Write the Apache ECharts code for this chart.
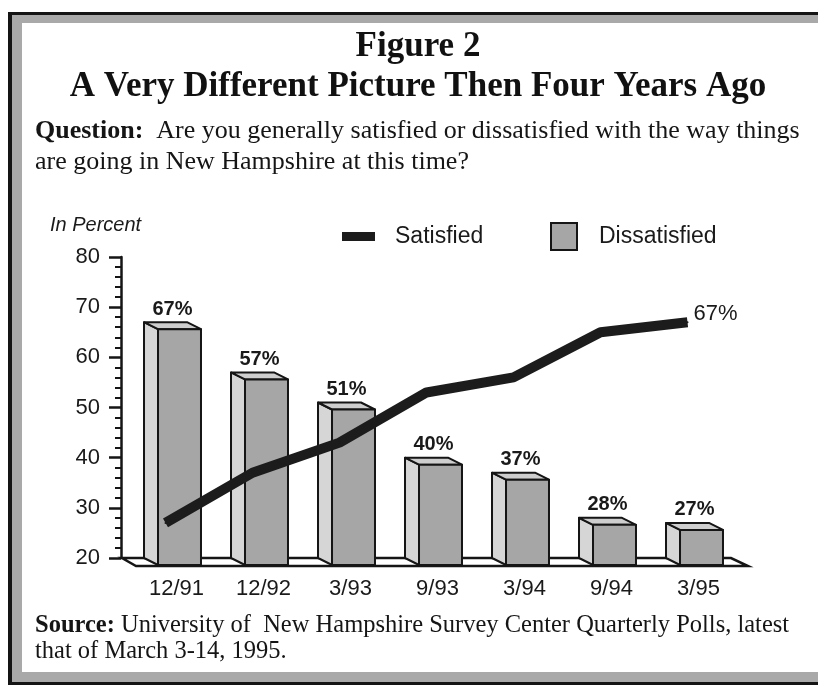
<!DOCTYPE html>
<html><head><meta charset="utf-8">
<script src="https://cdn.jsdelivr.net/npm/echarts@6/dist/echarts.min.js"></script>
<style>html,body{margin:0;padding:0;background:#fff}#c{width:818px;height:685px}</style>
</head><body><div id="c"></div>
<script>
// ---- data ----
const categories = ['12/91', '12/92', '3/93', '9/93', '3/94', '9/94', '3/95'];
const satisfied = [27, 37, 43, 53, 56, 65, 67];
const dissatisfied = [67, 57, 51, 40, 37, 28, 27];
const yMin = 20, yMax = 80, yStep = 10;

// ---- styling ----
const SANS = '"Liberation Sans", Arial, sans-serif';
const SERIF = '"Liberation Serif", "Times New Roman", serif';
const INK = '#151515';
const FRONT = '#a6a6a6', SIDE = '#d6d6d6', TOP = '#cecece';
const DX = 14, DY = 7;

const chart = echarts.init(document.getElementById('c'), null, {renderer: 'canvas'});

function renderFloor(params, api) {
  const cs = params.coordSys;
  const yb = api.coord([0, yMin])[1];
  const x0 = cs.x, x1 = cs.x + cs.width;
  return {
    type: 'polygon',
    shape: {points: [[x0, yb], [x1, yb], [x1 + DX + 3, yb + DY + 1], [x0 + DX, yb + DY + 1]]},
    style: {fill: '#fff', stroke: INK, lineWidth: 2.5, lineJoin: 'miter'}
  };
}

function renderBar(params, api) {
  const i = api.value(0), v = api.value(1);
  const top = api.coord([i, v]);
  const base = api.coord([i, yMin]);
  const bw = api.size([1, 0])[0];
  const hw = bw * 0.247;
  const xl = top[0] - hw, xr = top[0] + hw, yt = top[1], yb = base[1];
  const st = {stroke: INK, lineWidth: 2, lineJoin: 'round'};
  return {
    type: 'group',
    children: [
      {type: 'polygon', shape: {points: [[xl, yt], [xl + DX, yt + DY], [xl + DX, yb + DY], [xl, yb]]},
       style: Object.assign({fill: SIDE}, st)},
      {type: 'polygon', shape: {points: [[xl, yt], [xr, yt], [xr + DX, yt + DY], [xl + DX, yt + DY]]},
       style: Object.assign({fill: TOP}, st)},
      {type: 'rect', shape: {x: xl + DX, y: yt + DY, width: 2 * hw, height: yb - yt}},
      {type: 'text', style: {text: v + '%', x: top[0] + DX / 2, y: yt - 3, align: 'center', verticalAlign: 'bottom',
        fontFamily: SANS, fontSize: 20, fontWeight: 'bold', fill: '#1a1a1a'}}
    ].map((c, k) => k === 2 ? Object.assign(c, {style: Object.assign({fill: FRONT}, st)}) : c)
  };
}

const option = {
  backgroundColor: '#ffffff',
  animation: false,
  graphic: [
    {type: 'rect', z: -10, shape: {x: 8, y: 12, width: 820, height: 673}, style: {fill: '#141414'}},
    {type: 'rect', z: -9, shape: {x: 12, y: 15, width: 816, height: 667}, style: {fill: '#a9a9a9'}},
    {type: 'rect', z: -8, shape: {x: 22, y: 23, width: 806, height: 649}, style: {fill: '#ffffff'}},
    {type: 'text', x: 418, y: 47, style: {text: 'Figure 2', align: 'center', verticalAlign: 'middle',
      fontFamily: SERIF, fontSize: 35, fontWeight: 'bold', fill: '#111'}},
    {type: 'text', x: 418, y: 87, style: {text: 'A Very Different Picture Then Four Years Ago', align: 'center', verticalAlign: 'middle',
      fontFamily: SERIF, fontSize: 35, fontWeight: 'bold', fill: '#111'}},
    {type: 'text', x: 35, y: 131, style: {
      text: '{b|Question:}  Are you generally satisfied or dissatisfied with the way things',
      verticalAlign: 'middle', fontFamily: SERIF, fontSize: 26, fill: '#151515',
      rich: {b: {fontFamily: SERIF, fontSize: 26, fontWeight: 'bold', fill: '#151515'}}}},
    {type: 'text', x: 35, y: 162, style: {text: 'are going in New Hampshire at this time?', verticalAlign: 'middle',
      fontFamily: SERIF, fontSize: 26, fill: '#151515'}},
    {type: 'text', x: 50, y: 225, style: {text: 'In Percent', verticalAlign: 'middle',
      fontFamily: SANS, fontSize: 20, fontStyle: 'italic', fill: '#1a1a1a'}},
    {type: 'text', x: 35, y: 626, style: {
      text: '{b|Source:} University of  New Hampshire Survey Center Quarterly Polls, latest',
      verticalAlign: 'middle', fontFamily: SERIF, fontSize: 24.5, fill: '#151515',
      rich: {b: {fontFamily: SERIF, fontSize: 24.5, fontWeight: 'bold', fill: '#151515'}}}},
    {type: 'text', x: 35, y: 652, style: {text: 'that of March 3-14, 1995.', verticalAlign: 'middle',
      fontFamily: SERIF, fontSize: 24.5, fill: '#151515'}}
  ],
  legend: [
    {data: [{name: 'Satisfied', icon: 'rect', itemStyle: {color: '#1c1c1c'}}],
     left: 342, top: 225, padding: 0, itemWidth: 33, itemHeight: 9,
     textStyle: {fontFamily: SANS, fontSize: 23, color: '#1a1a1a', padding: [0, 0, 0, 15]}, selectedMode: false},
    {data: [{name: 'Dissatisfied', icon: 'rect', itemStyle: {color: FRONT, borderColor: INK, borderWidth: 2}}],
     left: 550, top: 222, padding: 0, itemWidth: 26, itemHeight: 27,
     textStyle: {fontFamily: SANS, fontSize: 23, color: '#1a1a1a', padding: [0, 0, 0, 17]}, selectedMode: false}
  ],
  grid: {left: 122, right: 87, top: 257, bottom: 127, containLabel: false},
  xAxis: {
    type: 'category', data: categories, boundaryGap: true,
    axisLine: {show: false}, axisTick: {show: false}, splitLine: {show: false},
    axisLabel: {fontFamily: SANS, fontSize: 22, color: '#1a1a1a', margin: 20, padding: [0, 0, 0, 22]}
  },
  yAxis: {
    type: 'value', min: yMin, max: yMax, interval: yStep, offset: 1,
    axisLine: {show: true, lineStyle: {color: INK, width: 2.5}},
    axisTick: {show: true, length: 12, lineStyle: {color: INK, width: 2.5}},
    minorTick: {show: true, splitNumber: 5, length: 6, lineStyle: {color: INK, width: 2}},
    splitLine: {show: false},
    axisLabel: {fontFamily: SANS, fontSize: 22, color: '#1a1a1a', margin: 21}
  },
  series: [
    {type: 'custom', name: 'floor', silent: true, z: 1, clip: false,
     renderItem: renderFloor, data: [[0, yMin]], encode: {x: 0, y: 1}},
    {type: 'custom', name: 'Dissatisfied', z: 2, clip: false,
     itemStyle: {color: FRONT, borderColor: INK, borderWidth: 2},
     renderItem: renderBar, encode: {x: 0, y: 1},
     data: dissatisfied.map((v, i) => [i, v])},
    {type: 'line', name: 'Satisfied', z: 5,
     data: satisfied.map((v, i) => i === satisfied.length - 1 ? {value: v, label: {show: true}} : v),
     symbol: 'circle', symbolSize: 2, showSymbol: true,
     itemStyle: {color: '#1c1c1c'},
     lineStyle: {color: '#1c1c1c', width: 10, cap: 'butt', join: 'bevel'},
     label: {show: false, position: 'right', distance: 5, offset: [0, -8], formatter: '{c}%',
       fontFamily: SANS, fontSize: 22, color: '#1a1a1a'}}
  ]
};
chart.setOption(option);
</script></body></html>
